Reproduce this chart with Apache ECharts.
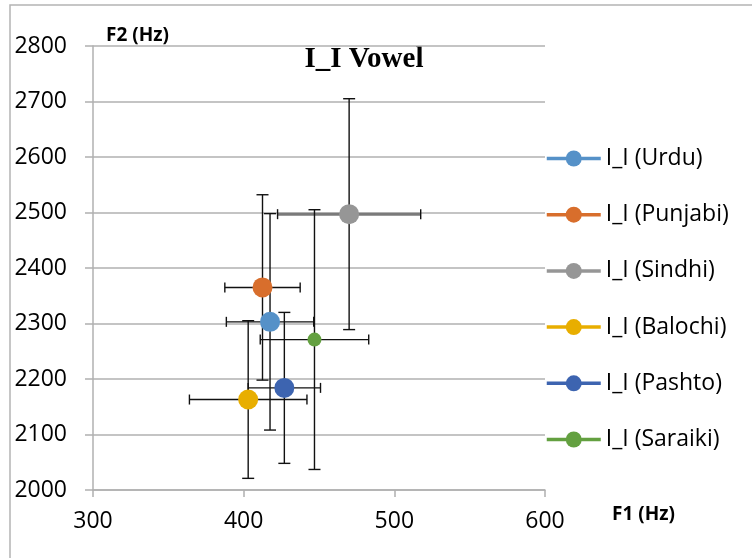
<!DOCTYPE html>
<html>
<head>
<meta charset="utf-8">
<script src="https://cdn.jsdelivr.net/npm/echarts@6/dist/echarts.min.js"></script>
<style>
  html, body { margin: 0; padding: 0; background: #fff; }
  #chart { width: 752px; height: 558px; }
</style>
</head>
<body>
<div id="chart"></div>
<script>
// values
const groups = ["I_I (Urdu)", "I_I (Punjabi)", "I_I (Sindhi)", "I_I (Balochi)", "I_I (Pashto)", "I_I (Saraiki)"];
const f1Mean = [417.5, 412.5, 470, 403, 427, 447];
const f2Mean = [2303, 2365, 2497, 2163, 2184, 2271];
const f1Sd = [29, 25, 47.5, 39, 24, 36];
const f2Sd = [195, 167, 208, 142, 136, 234];
const colors = ["#5591c8", "#d86e2c", "#969696", "#e8ae00", "#3d64b0", "#63a040"];
const markerSizes = [20, 20, 20, 20, 20, 14];

const myChart = echarts.init(document.getElementById("chart"));
const font = "'Open Sans', sans-serif";
const gridColor = "#b0b0b0";

const pointSeries = groups.map((name, i) => ({
  name: name,
  type: "line",
  data: [[f1Mean[i], f2Mean[i]]],
  symbol: "circle",
  symbolSize: markerSizes[i],
  itemStyle: { color: colors[i] },
  lineStyle: { color: colors[i], width: 3.5 },
  z: 5,
}));

const errData = groups.map((name, i) => [f1Mean[i], f2Mean[i], f1Sd[i], f2Sd[i], i]);

function renderErrors(params, api) {
  const x = api.value(0), y = api.value(1), sx = api.value(2), sy = api.value(3), idx = api.value(4);
  const top = api.coord([x, y + sy]);
  const bot = api.coord([x, y - sy]);
  const left = api.coord([x - sx, y]);
  const right = api.coord([x + sx, y]);
  const black = { stroke: "#111", lineWidth: 1.4 };
  const hStyle = idx === 2 ? { stroke: "#7a7a7a", lineWidth: 3 } : black;
  const cap = 6, hcap = 5;
  return {
    type: "group",
    children: [
      { type: "line", shape: { x1: top[0], y1: top[1], x2: bot[0], y2: bot[1] }, style: black },
      { type: "line", shape: { x1: top[0] - cap, y1: top[1], x2: top[0] + cap, y2: top[1] }, style: black },
      { type: "line", shape: { x1: bot[0] - cap, y1: bot[1], x2: bot[0] + cap, y2: bot[1] }, style: black },
      { type: "line", shape: { x1: left[0], y1: left[1], x2: right[0], y2: right[1] }, style: hStyle },
      { type: "line", shape: { x1: left[0], y1: left[1] - hcap, x2: left[0], y2: left[1] + hcap }, style: black },
      { type: "line", shape: { x1: right[0], y1: right[1] - hcap, x2: right[0], y2: right[1] + hcap }, style: black },
    ],
  };
}

myChart.setOption({
  animation: false,
  backgroundColor: "#fff",
  grid: { left: 93, right: 207, top: 46, bottom: 68 },
  legend: {
    data: groups,
    orient: "vertical",
    left: 545,
    top: 147,
    padding: 0,
    itemWidth: 54,
    itemHeight: 20,
    itemGap: 33.2,
    lineStyle: { width: 3.5 },
    textStyle: { fontFamily: font, fontSize: 23, color: "#000", lineHeight: 20 },
  },
  xAxis: {
    type: "value",
    min: 300,
    max: 600,
    interval: 100,
    axisLine: { show: true, lineStyle: { color: gridColor, width: 1.5 } },
    axisTick: { show: true, length: 7, lineStyle: { color: gridColor, width: 1.5 } },
    axisLabel: { margin: 20, fontFamily: font, fontSize: 23, color: "#000" },
    splitLine: { show: false },
  },
  yAxis: {
    type: "value",
    min: 2000,
    max: 2800,
    interval: 100,
    axisLine: { show: true, lineStyle: { color: gridColor, width: 1.5 } },
    axisTick: { show: true, length: 8, lineStyle: { color: gridColor, width: 1.5 } },
    axisLabel: { margin: 26, fontFamily: font, fontSize: 23, color: "#000", formatter: (v) => String(v) },
    splitLine: { show: true, lineStyle: { color: gridColor, width: 1.5 } },
  },
  graphic: [
    { type: "rect", shape: { x: 10, y: 5, width: 800, height: 560 }, style: { fill: null, stroke: "#b4b4b4", lineWidth: 1.5 }, silent: true },
    { type: "text", x: 364, y: 60, style: { text: "I_I Vowel", fontFamily: "'Liberation Serif', serif", fontWeight: "bold", fontSize: 29, fill: "#000", align: "center", verticalAlign: "middle" } },
    { type: "text", x: 106, y: 36, style: { text: "F2 (Hz)", fontFamily: font, fontWeight: "bold", fontSize: 19, fill: "#000", verticalAlign: "middle" } },
    { type: "text", x: 612, y: 515, style: { text: "F1 (Hz)", fontFamily: font, fontWeight: "bold", fontSize: 19, fill: "#000", verticalAlign: "middle" } },
  ],
  series: [
    {
      name: "errors",
      type: "custom",
      data: errData,
      renderItem: renderErrors,
      z: 2,
      silent: true,
    },
  ].concat(pointSeries),
});
</script>
</body>
</html>
